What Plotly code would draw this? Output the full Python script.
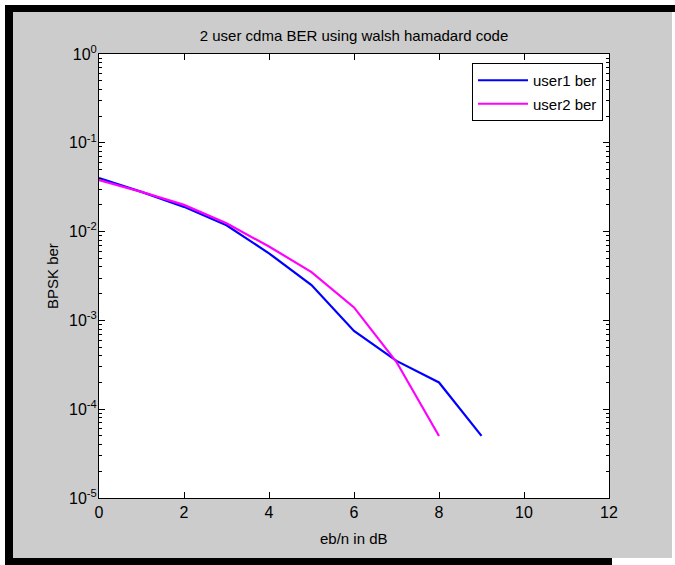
import plotly.graph_objects as go

# ---- data ----
ebn_user1 = [0, 1, 2, 3, 4, 5, 6, 7, 8, 9]
ber_user1 = [0.040, 0.028, 0.019, 0.0118, 0.0057, 0.0025, 0.00076, 0.00035, 0.00020, 0.00005]
ebn_user2 = [0, 1, 2, 3, 4, 5, 6, 7, 8]
ber_user2 = [0.038, 0.028, 0.020, 0.0124, 0.0068, 0.0035, 0.00140, 0.00034, 0.00005]
x_ticks = [0, 2, 4, 6, 8, 10, 12]
y_tick_vals = [1e-5, 1e-4, 1e-3, 1e-2, 1e-1, 1e0]
y_tick_text = ["10<sup>-5</sup>", "10<sup>-4</sup>", "10<sup>-3</sup>",
               "10<sup>-2</sup>", "10<sup>-1</sup>", "10<sup>0</sup>"]

W, H = 675, 565
L, R, T, B = 99, 609, 54, 498  # plot area in pixels
FONT = "Liberation Sans, Arial, sans-serif"


def px(x):
    return (x - L) / (R - L)


def py(y):
    return (B - y) / (B - T)


fig = go.Figure()
fig.add_trace(go.Scatter(x=ebn_user1, y=ber_user1, mode="lines", name="user1 ber",
                         line=dict(color="#0000ff", width=2.2), legendgroup="a"))
fig.add_trace(go.Scatter(x=ebn_user2, y=ber_user2, mode="lines", name="user2 ber",
                         line=dict(color="#ff00ff", width=2.2), legendgroup="b"))


def rect(x0, y0, x1, y1, color):
    return dict(type="rect", xref="paper", yref="paper",
                x0=px(x0), x1=px(x1), y0=py(y0), y1=py(y1),
                fillcolor=color, line=dict(width=0), layer="below")


shapes = [
    rect(0, 0, 5, H, "white"),
    rect(0, 0, W, 5, "white"),
    rect(5, 5, W, 12, "black"),
    rect(5, 5, 13, H, "black"),
    rect(5, 558, 612, H, "black"),
    rect(672, 12, W, H, "white"),
    rect(612, 558, W, H, "white"),
]

fig.update_layout(
    width=W, height=H,
    margin=dict(l=L, r=W - R, t=T, b=H - B, pad=0),
    paper_bgcolor="#cccccc",
    plot_bgcolor="white",
    font=dict(family=FONT, size=15, color="black"),
    title=dict(text="2 user cdma BER using walsh hamadard code",
               x=px((L + R) / 2), xref="paper", xanchor="center",
               y=1 - 36 / H, yref="container", yanchor="middle",
               font=dict(size=15)),
    showlegend=True,
    legend=dict(x=px(603), y=py(63), xanchor="right", yanchor="top",
                bgcolor="white", bordercolor="black", borderwidth=1,
                font=dict(size=15), tracegroupgap=1, itemwidth=50),
    shapes=shapes,
    annotations=[
        dict(text="eb/n in dB", xref="paper", yref="paper", x=0.5, y=py(538),
             xanchor="center", yanchor="middle", showarrow=False, font=dict(size=15)),
        dict(text="BPSK ber", xref="paper", yref="paper", x=px(52), y=0.5,
             xanchor="center", yanchor="middle", textangle=-90, showarrow=False,
             font=dict(size=15)),
    ],
)

fig.update_xaxes(range=[0, 12], tickvals=x_ticks, ticktext=[str(v) for v in x_ticks],
                 showgrid=False, zeroline=False, showline=True, linecolor="black",
                 linewidth=1, mirror="ticks", ticks="inside", ticklen=6,
                 tickcolor="black", tickfont=dict(size=16))
fig.update_yaxes(type="log", range=[-5, 0], tickvals=y_tick_vals, ticktext=y_tick_text,
                 showgrid=False, zeroline=False, showline=True, linecolor="black",
                 linewidth=1, mirror="ticks", ticks="inside", ticklen=6,
                 tickcolor="black", tickfont=dict(size=16), ticklabelstandoff=-2,
                 minor=dict(ticks="inside", ticklen=3, tickcolor="black",
                            dtick="D1", showgrid=False))

fig.write_html("out.html", config={"displayModeBar": False},
               post_script="document.body.style.margin='0';")
